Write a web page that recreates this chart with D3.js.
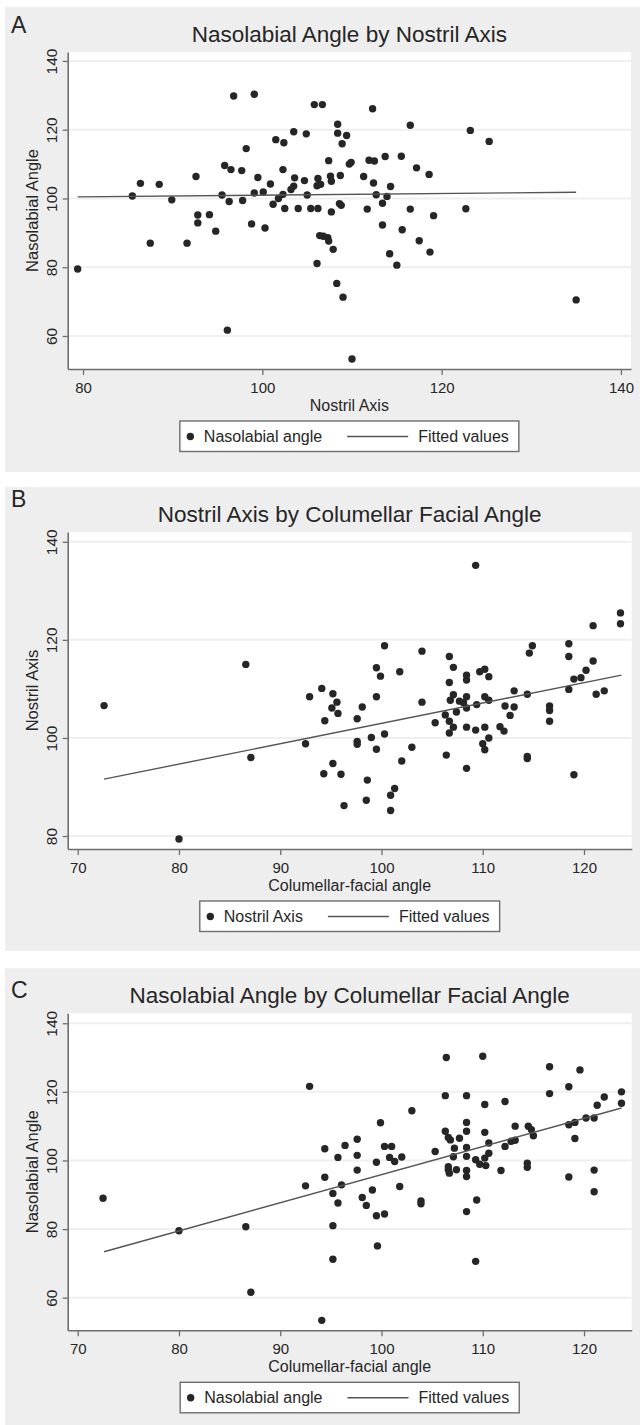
<!DOCTYPE html>
<html>
<head>
<meta charset="utf-8">
<script src="https://cdn.jsdelivr.net/npm/d3@7"></script>
<style>
body { margin: 0; background: #fff; }
text { font-family: "Liberation Sans", Arial, sans-serif; fill: #262626; }
</style>
</head>
<body>
<div id="chart"></div>
<script>
// panel A: nostril axis (x) vs nasolabial angle (y)
var nostrilA = [79.4, 85.5, 86.4, 87.5, 88.5, 89.9, 91.6, 92.6, 92.8, 92.8, 94.1, 94.8, 95.5, 95.8, 96.5, 96.3, 96.1, 96.8, 97.7, 97.8,
  98.2, 98.8, 99.1, 99.1, 99.5, 100.1, 100.3, 100.9, 101.2, 101.5, 101.8, 102.3, 102.3, 102.4, 102.5, 103.2, 103.5, 103.6, 103.5, 104.0,
  104.7, 104.9, 105.0, 105.4, 105.8, 106.7, 106.1, 106.2, 106.5, 106.2, 106.1, 106.4, 106.8, 107.3, 107.4, 107.9, 107.4, 107.6, 107.7, 107.7,
  108.4, 108.4, 108.3, 108.6, 108.7, 109.0, 109.4, 108.9, 109.7, 109.9, 108.8, 110.0, 112.3, 111.9, 112.5, 111.3, 112.4, 112.7, 113.9, 114.3,
  113.4, 113.7, 111.7, 113.4, 116.5, 115.5, 117.2, 118.6, 116.5, 115.6, 119.1, 117.5, 114.2, 118.7, 115.0, 123.2, 125.3, 122.7, 135.0];
var nasolabialA = [79.5, 100.7, 104.4, 87.0, 104.1, 99.6, 87.0, 106.4, 95.2, 92.9, 95.3, 90.5, 101.0, 109.6, 108.4, 99.1, 61.7, 129.8, 108.1, 99.4,
  114.5, 92.6, 130.3, 101.6, 106.1, 101.9, 91.4, 104.2, 98.3, 117.1, 100.0, 101.2, 108.4, 116.2, 97.1, 102.6, 103.6, 106.0, 119.4, 97.1,
  105.2, 118.8, 101.0, 97.1, 127.3, 127.3, 103.7, 105.8, 104.1, 97.1, 81.1, 89.2, 89.0, 88.6, 87.6, 85.2, 111.0, 106.5, 105.0, 96.1,
  121.6, 119.0, 75.3, 98.5, 106.7, 71.3, 118.3, 115.9, 110.0, 110.5, 98.0, 53.3, 126.1, 111.1, 110.9, 106.4, 104.5, 101.1, 100.6, 103.5,
  98.6, 112.2, 96.9, 92.3, 121.3, 112.3, 108.9, 107.0, 96.9, 90.9, 95.0, 87.7, 83.9, 84.4, 80.6, 119.8, 116.6, 97.0, 70.5];
var fitAx = [79.4, 135.0];
var fitAy = [100.45, 101.8];

// panel B: columellar-facial angle (x) vs nostril axis (y)
var cfaB = [72.6, 80.0, 86.6, 87.1, 92.5, 92.9, 94.1, 94.4, 94.3, 95.2, 95.2, 95.1, 95.6, 95.7, 96.0, 96.3, 98.1, 97.6, 97.6, 97.6,
  99.5, 99.9, 99.5, 99.0, 99.5, 100.3, 100.3, 101.8, 98.6, 98.5, 101.3, 100.9, 100.9, 102.0, 103.0, 104.0, 104.0, 105.3, 106.4, 106.7,
  107.1, 106.7, 107.1, 106.8, 106.3, 106.7, 107.1, 106.7, 107.4, 107.7, 108.1, 108.4, 108.4, 108.4, 108.4, 108.4, 108.4, 109.3, 109.4, 109.3,
  109.7, 110.2, 110.6, 110.2, 110.6, 110.2, 110.6, 110.0, 110.2, 111.7, 112.1, 112.2, 112.7, 113.1, 113.1, 114.4, 114.4, 114.4, 114.6, 114.9,
  116.6, 116.6, 116.6, 118.5, 118.5, 118.5, 119.0, 119.7, 120.2, 120.9, 120.9, 121.2, 122.0, 119.0, 123.6, 123.6];
var nostrilB = [106.6, 79.4, 115.0, 96.0, 98.8, 108.4, 110.1, 103.5, 92.7, 94.8, 109.0, 106.1, 107.3, 105.0, 92.6, 86.2, 106.3, 103.9, 99.3, 98.7,
  114.3, 112.6, 108.4, 100.1, 97.7, 100.8, 118.8, 113.5, 91.4, 87.3, 89.7, 88.3, 85.2, 95.3, 98.1, 117.7, 107.3, 103.1, 96.5, 116.6,
  114.4, 111.3, 108.8, 107.7, 104.7, 103.4, 102.2, 101.0, 105.3, 107.5, 107.2, 108.4, 106.1, 112.8, 111.8, 102.2, 93.8, 101.6, 106.8, 135.2,
  113.5, 114.0, 112.5, 108.4, 107.7, 102.2, 100.0, 98.8, 97.6, 102.3, 101.4, 106.5, 104.6, 106.3, 109.6, 108.9, 96.2, 95.8, 117.3, 118.8,
  106.5, 105.6, 103.4, 119.2, 116.6, 109.9, 112.0, 112.3, 113.8, 115.7, 122.9, 108.9, 109.6, 92.5, 125.5, 123.3];
var fitBx = [72.6, 123.7];
var fitBy = [91.6, 112.8];

// panel C: columellar-facial angle (x) vs nasolabial angle (y)
var cfaC = [72.5, 80.0, 86.6, 87.1, 92.9, 92.5, 94.4, 94.4, 94.1, 95.2, 95.2, 95.2, 95.7, 95.7, 96.05, 96.4, 97.6, 97.6, 97.6, 98.1,
  98.5, 99.1, 99.5, 99.9, 99.5, 100.3, 99.6, 100.3, 101.0, 100.8, 101.3, 102.0, 101.8, 103.0, 103.9, 103.9, 105.3, 106.4, 106.3, 106.3,
  106.6, 106.8, 107.7, 107.2, 107.1, 106.6, 106.6, 106.7, 107.4, 108.4, 108.4, 108.4, 108.4, 108.4, 108.4, 108.4, 108.4, 109.4, 109.3, 110.0,
  110.2, 110.2, 110.6, 110.6, 110.2, 109.3, 109.7, 110.3, 111.8, 112.2, 112.2, 112.8, 113.2, 113.2, 114.4, 114.4, 114.5, 114.8, 115.0, 116.6,
  116.6, 118.5, 118.5, 119.1, 119.1, 118.5, 119.6, 120.2, 121.0, 121.3, 122.0, 121.0, 121.0, 123.7, 123.7];
var nasolabialC = [89.0, 79.5, 80.7, 61.6, 121.6, 92.6, 103.4, 95.1, 53.4, 90.4, 81.0, 71.2, 100.9, 87.6, 92.9, 104.4, 106.2, 101.5, 97.2, 89.2,
  86.9, 91.4, 99.5, 111.0, 83.9, 84.4, 75.1, 104.1, 104.1, 100.9, 99.7, 101.0, 92.4, 114.5, 88.2, 87.4, 102.6, 130.0, 118.9, 108.5,
  106.7, 106.0, 106.5, 103.6, 101.1, 98.2, 97.3, 96.3, 97.3, 118.9, 111.1, 108.5, 103.8, 101.2, 97.1, 95.3, 85.1, 88.5, 70.6, 130.4,
  116.3, 108.2, 105.1, 102.1, 100.7, 100.2, 98.9, 98.5, 97.1, 117.2, 104.1, 105.6, 110.0, 105.9, 99.2, 98.0, 110.0, 109.0, 107.2, 127.3,
  119.5, 121.5, 110.4, 111.1, 106.4, 95.2, 126.4, 112.4, 112.4, 116.1, 118.5, 97.2, 90.9, 120.0, 116.7];
var fitCx = [72.6, 123.7];
var fitCy = [73.4, 115.3];

var nostrilTicks = [80, 100, 120, 140];
var cfaTicks = [70, 80, 90, 100, 110, 120];
var nasolabialTicks = [60, 80, 100, 120, 140];
var nostrilYTicks = [80, 100, 120, 140];

var panels = [
  { letter: "A", letterY: 33, top: 7, bottom: 472,
    title: "Nasolabial Angle by Nostril Axis", xlab: "Nostril Axis", ylab: "Nasolabial Angle", legend: "Nasolabial angle",
    xs: nostrilA, ys: nasolabialA, fx: fitAx, fy: fitAy, xticks: nostrilTicks, yticks: nasolabialTicks,
    xdom: [78.29, 141.12], xr: 631, ydom: [50.4, 142.6] },
  { letter: "B", letterY: 507, top: 487, bottom: 951,
    title: "Nostril Axis by Columellar Facial Angle", xlab: "Columellar-facial angle", ylab: "Nostril Axis", legend: "Nostril Axis",
    xs: cfaB, ys: nostrilB, fx: fitBx, fy: fitBy, xticks: cfaTicks, yticks: nostrilYTicks,
    xdom: [69.01, 124.71], xr: 631.7, ydom: [77.35, 142.0] },
  { letter: "C", letterY: 998, top: 968.3, bottom: 1425,
    title: "Nasolabial Angle by Columellar Facial Angle", xlab: "Columellar-facial angle", ylab: "Nasolabial Angle", legend: "Nasolabial angle",
    xs: cfaC, ys: nasolabialC, fx: fitCx, fy: fitCy, xticks: cfaTicks, yticks: nasolabialTicks,
    xdom: [69.01, 124.71], xr: 631.7, ydom: [50.5, 142.9] }
];

var svg = d3.select("#chart").append("svg")
  .attr("width", 640)
  .attr("height", 1425);

var axisColor = "#6e6e6e";

panels.forEach(function(p) {
  var g = svg.append("g");
  var left = 67.7, right = p.xr;
  var ptop = p.top + 45, pbot = ptop + 317;
  var cx = (left + right) / 2;

  var x = d3.scaleLinear().domain(p.xdom).range([left, right]);
  var y = d3.scaleLinear().domain(p.ydom).range([pbot, ptop]);

  // outer grey region + white plot region
  g.append("rect").attr("x", 5).attr("y", p.top).attr("width", 635).attr("height", p.bottom - p.top).attr("fill", "#eeeeee");
  g.append("rect").attr("x", left).attr("y", ptop).attr("width", right - left).attr("height", pbot - ptop).attr("fill", "#fff");

  g.selectAll(".grid").data(p.yticks).enter().append("line")
    .attr("x1", left).attr("x2", right)
    .attr("y1", function(d) { return y(d); })
    .attr("y2", function(d) { return y(d); })
    .attr("stroke", "#efefef").attr("stroke-width", 2);

  g.selectAll(".pt").data(p.xs).enter().append("circle")
    .attr("cx", function(d) { return x(d); })
    .attr("cy", function(d, i) { return y(p.ys[i]); })
    .attr("r", 3.7)
    .attr("fill", "#262626");

  g.append("line")
    .attr("x1", x(p.fx[0])).attr("y1", y(p.fy[0]))
    .attr("x2", x(p.fx[1])).attr("y2", y(p.fy[1]))
    .attr("stroke", "#555").attr("stroke-width", 1.4);

  // axes
  var ax = g.append("g").attr("transform", "translate(0," + pbot + ")")
    .call(d3.axisBottom(x).tickValues(p.xticks).tickSize(6).tickSizeOuter(0));
  ax.selectAll("text").attr("y", 23.5).attr("dy", 0).style("font-size", "15px").attr("fill", "#262626");

  var ay = g.append("g").attr("transform", "translate(" + left + ",0)")
    .call(d3.axisLeft(y).tickValues(p.yticks).tickSize(5).tickSizeOuter(0));
  ay.selectAll("text").attr("x", 0).attr("dy", 0)
    .attr("transform", "translate(-10.7,0) rotate(-90)")
    .attr("text-anchor", "middle")
    .style("font-size", "15.5px").attr("fill", "#262626");

  [ax, ay].forEach(function(a) {
    a.select(".domain").attr("stroke", axisColor).attr("stroke-width", 1.6);
    a.selectAll(".tick line").attr("stroke", axisColor).attr("stroke-width", 1.3);
  });

  // labels
  g.append("text").attr("x", 11).attr("y", p.letterY).style("font-size", "23px").text(p.letter);
  g.append("text").attr("x", cx).attr("y", p.top + 34.5).attr("text-anchor", "middle")
    .style("font-size", "22.5px").text(p.title);
  g.append("text").attr("x", cx).attr("y", pbot + 41.5).attr("text-anchor", "middle")
    .style("font-size", "16px").text(p.xlab);
  g.append("text").attr("transform", "translate(37.5," + ((ptop + pbot) / 2) + ") rotate(-90)")
    .attr("text-anchor", "middle").style("font-size", "16.5px").text(p.ylab);

  // legend
  var lg = g.append("g");
  var box = lg.append("rect").attr("height", 30.5).attr("fill", "#fff")
    .attr("stroke", axisColor).attr("stroke-width", 1.4);
  lg.append("circle").attr("cx", 10.5).attr("cy", 15.5).attr("r", 3.7).attr("fill", "#262626");
  var t1 = lg.append("text").attr("x", 24).attr("y", 21).style("font-size", "16px").text(p.legend);
  var lx = 24 + t1.node().getComputedTextLength() + 25;
  lg.append("line").attr("x1", lx).attr("x2", lx + 61).attr("y1", 15.5).attr("y2", 15.5)
    .attr("stroke", "#555").attr("stroke-width", 1.4);
  var t2 = lg.append("text").attr("x", lx + 71).attr("y", 21).style("font-size", "16px").text("Fitted values");
  var w = lx + 71 + t2.node().getComputedTextLength() + 10;
  box.attr("width", w);
  lg.attr("transform", "translate(" + (cx - w / 2) + "," + (pbot + 52) + ")");
});
</script>
</body>
</html>
